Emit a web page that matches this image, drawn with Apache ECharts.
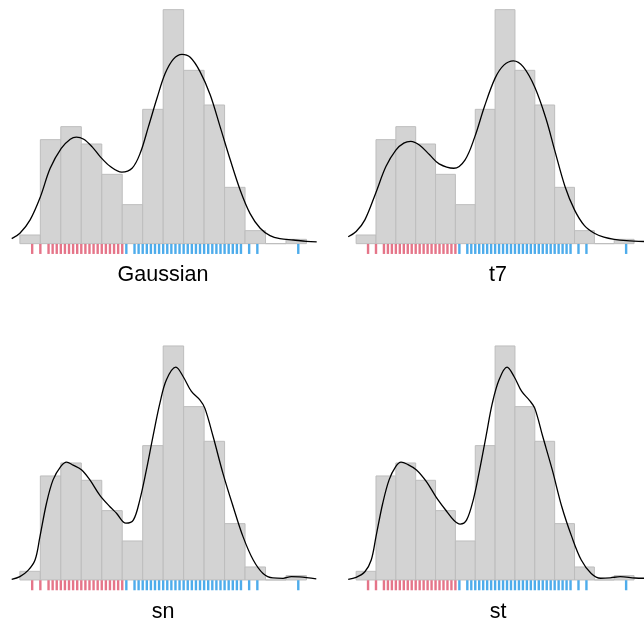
<!DOCTYPE html>
<html>
<head>
<meta charset="utf-8">
<script src="https://cdn.jsdelivr.net/npm/echarts@6/dist/echarts.min.js"></script>
<style>
  html, body { margin: 0; padding: 0; background: #fff; }
  #main { width: 644px; height: 629px; }
</style>
</head>
<body>
<div id="main"></div>
<script>
// histogram: bins of width 5 starting at 40
const binStarts = [40, 45, 50, 55, 60, 65, 70, 75, 80, 85, 90, 95, 100, 105];
const binCounts = [2, 24, 27, 23, 16, 9, 31, 54, 40, 32, 13, 3, 0, 1];

// rug (distinct observed values), coloured by cluster
const rugRed = [43, 45, 47, 48, 49, 50, 51, 52, 53, 54, 55, 56, 57, 58, 59, 60, 61, 62, 63, 64, 65];
const rugBlue = [66, 68, 69, 70, 71, 72, 73, 74, 75, 76, 77, 78, 79, 80, 81, 82, 83, 84, 85, 86, 87,
  88, 89, 90, 91, 92, 93, 94, 96, 98, 108];

// fitted mixture densities (count scale)
const gaussCurve = [[38, 1.15], [40, 2.4], [42.5, 5.5], [45, 10.8], [47.4, 17.4], [50.1, 22], [52.3, 24.1],
  [53.8, 24.6], [55.6, 24.1], [57.6, 22.4], [59.6, 20.1], [62.1, 17.8], [64.9, 16.5], [67.4, 17.4],
  [69.4, 20.9], [71.4, 27], [73.5, 33.6], [75.5, 39.3], [77.5, 42.6], [79.6, 43.7], [81.6, 43],
  [84, 39.7], [86.5, 34.3], [88.9, 27], [91.4, 19.3], [93.8, 12.4], [96.2, 7], [98.7, 3.55],
  [101.1, 1.85], [103.5, 1.15], [106.8, 0.85], [110, 0.55], [112.5, 0.4]];
const t7Curve = [[38, 1.6], [40, 2.8], [42.2, 5.5], [44.9, 11.6], [47.5, 17.8], [50, 21.6], [52, 23.2],
  [53.75, 23.6], [56, 22.7], [58.5, 20.5], [60.9, 18.4], [64.6, 17.4], [67.4, 19.3], [69.9, 24.7],
  [72.3, 31.6], [75, 38.2], [77.2, 41.2], [79.6, 42.2], [82.1, 40.8], [85, 36.1], [87.8, 28.9],
  [90, 21.6], [92.6, 13.2], [95, 7.8], [97.5, 4.15], [100, 2.4], [102.4, 1.5], [105, 1.0],
  [108.1, 0.7], [112.5, 0.5]];
const snCurve = [[38, 0.15], [40, 0.77], [42, 2.2], [43.7, 4.6], [44.9, 10], [46.5, 17.7], [48.1, 23.1],
  [50, 26.2], [51.4, 27.2], [53, 26.5], [55.1, 25.4], [57.1, 23.1], [59.5, 19.6], [62, 16.9],
  [63.6, 15.4], [65.9, 13.1], [67.7, 13.8], [69.3, 18.5], [70.9, 25.4], [72.5, 33.1], [74.2, 40.8],
  [75.8, 46.2], [78.1, 49.1], [79.9, 46.9], [81.9, 43.5], [84, 41.5], [85.2, 39.6], [87.2, 33.1],
  [89.6, 24.6], [92.1, 16.9], [94.5, 10], [97, 4.6], [99.4, 1.5], [101.8, 0.46], [104.3, 0.38],
  [106.3, 0.77], [108.3, 0.7], [112.4, 0.23]];
const stCurve = [[38, 0.15], [40, 0.6], [42.2, 1.9], [43.8, 4.6], [45, 10], [46.7, 17.7], [48.3, 23.1],
  [50, 26.2], [51.3, 27.2], [52.9, 26.7], [55.2, 25.4], [57.7, 22.7], [60.1, 19.2], [62.5, 16.2],
  [64.6, 13.8], [66.2, 12.9], [67.8, 13.8], [69.5, 18.5], [71.1, 25.4], [72.7, 33.1], [74.3, 40.8],
  [76, 46.2], [78, 49.1], [79.8, 46.9], [81.7, 43.5], [83.7, 41.4], [85, 39.6], [87, 33.1],
  [89.4, 25.4], [91.8, 16.9], [94.3, 10], [96.7, 4.6], [99.2, 1.5], [101.6, 0.4], [104, 0.5],
  [106.5, 0.77], [110.2, 0.46], [112.5, 0.4]];

const panelTitles = ["Gaussian", "t7", "sn", "st"];
const panelCurves = [gaussCurve, t7Curve, snCurve, stCurve];

const panelLeft = [11.7, 348.2, 11.7, 348.2];
const panelTop = [1, 1, 337.3, 337.3];
const titleX = [163, 498, 163, 498];
const titleY = [275.5, 275.5, 612, 612];

const bins = binStarts.map((s, i) => [s, s + 5, binCounts[i]]);

function renderBin(params, api) {
  const topLeft = api.coord([api.value(0), api.value(2)]);
  const bottomRight = api.coord([api.value(1), 0]);
  return {
    type: "rect",
    shape: {
      x: topLeft[0],
      y: topLeft[1],
      width: bottomRight[0] - topLeft[0],
      height: bottomRight[1] - topLeft[1],
    },
    style: { fill: "#d3d3d3", stroke: "#bdbdbd", lineWidth: 1 },
  };
}

const grid = [];
const xAxis = [];
const yAxis = [];
const series = [];
const graphic = [];

panelTitles.forEach((title, i) => {
  grid.push({ left: panelLeft[i], top: panelTop[i], width: 305, height: 255.67 });
  xAxis.push({ type: "value", gridIndex: i, min: 38, max: 112.5, show: false });
  yAxis.push({ type: "value", gridIndex: i, min: -3, max: 56, show: false });

  series.push({
    type: "custom",
    xAxisIndex: i,
    yAxisIndex: i,
    renderItem: renderBin,
    encode: { x: [0, 1], y: 2 },
    data: bins,
    silent: true,
  });
  series.push({
    type: "scatter",
    xAxisIndex: i,
    yAxisIndex: i,
    symbol: "rect",
    symbolSize: [2.4, 10],
    itemStyle: { color: "#df536b" },
    data: rugRed.map(v => [v, -1.22]),
    silent: true,
  });
  series.push({
    type: "scatter",
    xAxisIndex: i,
    yAxisIndex: i,
    symbol: "rect",
    symbolSize: [2.4, 10],
    itemStyle: { color: "#2297e6" },
    data: rugBlue.map(v => [v, -1.22]),
    silent: true,
  });
  series.push({
    type: "line",
    xAxisIndex: i,
    yAxisIndex: i,
    data: panelCurves[i],
    smooth: 0.35,
    showSymbol: false,
    lineStyle: { color: "#000", width: 1.3 },
    silent: true,
  });

  graphic.push({
    type: "text",
    x: titleX[i],
    y: titleY[i],
    style: {
      text: title,
      font: '21.5px "Liberation Sans", Arial, sans-serif',
      fill: "#000",
      align: "center",
      verticalAlign: "middle",
      textAlign: "center",
      textVerticalAlign: "middle",
    },
  });
});

const myChart = echarts.init(document.getElementById("main"));
myChart.setOption({
  animation: false,
  grid,
  xAxis,
  yAxis,
  series,
  graphic,
});
</script>
</body>
</html>
